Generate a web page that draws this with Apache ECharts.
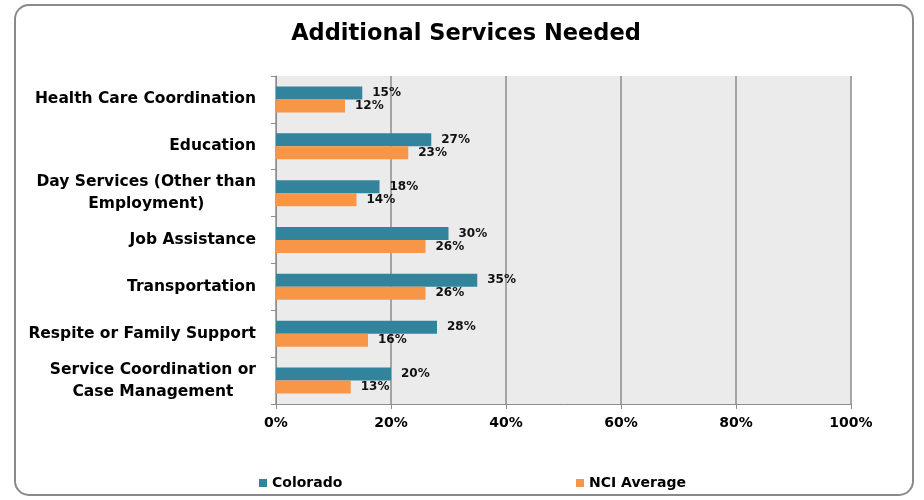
<!DOCTYPE html>
<html>
<head>
<meta charset="utf-8">
<script src="https://cdn.jsdelivr.net/npm/echarts@6/dist/echarts.min.js"></script>
<style>
html,body{margin:0;padding:0;background:#fff;}
#chart{width:924px;height:500px;}
</style>
</head>
<body>
<div id="chart"></div>
<script>
var categories = [
  "Health Care Coordination",
  "Education",
  "Day Services (Other than\nEmployment)",
  "Job Assistance",
  "Transportation",
  "Respite or Family Support",
  "Service Coordination or\nCase Management"
];
var colorado = [15, 27, 18, 30, 35, 28, 20];
var nciAverage = [12, 23, 14, 26, 26, 16, 13];
var xTicks = [0, 20, 40, 60, 80, 100];

var chart = echarts.init(document.getElementById('chart'));
var FONT = '"DejaVu Sans", "Open Sans", sans-serif';

function labelFmt(v) {
  return v.split('\n').map(function (l) { return '{c|' + l + '}'; }).join('\n');
}

var legendText = { fontFamily: FONT, fontSize: 14, fontWeight: 'bold', color: '#000' };

chart.setOption({
  animation: false,
  textStyle: { fontFamily: FONT },
  title: {
    text: 'Additional Services Needed',
    left: 461,
    textAlign: 'center',
    top: 18,
    textStyle: { fontFamily: FONT, fontSize: 22.5, fontWeight: 'bold', color: '#000' }
  },
  graphic: [{
    type: 'rect',
    shape: { x: 15, y: 5, width: 898, height: 490, r: 14 },
    style: { fill: 'none', stroke: '#8a8a8a', lineWidth: 2 },
    z: -10
  }],
  legend: [{
    left: 254,
    top: 471,
    icon: 'rect',
    itemWidth: 8,
    itemHeight: 8,
    itemGap: 5,
    textStyle: legendText,
    data: ['Colorado']
  }, {
    left: 571,
    top: 471,
    icon: 'rect',
    itemWidth: 8,
    itemHeight: 8,
    itemGap: 5,
    textStyle: legendText,
    data: ['NCI Average']
  }],
  grid: {
    left: 276, right: 73, top: 76, bottom: 96,
    show: true, backgroundColor: '#EBEBEB', borderWidth: 0
  },
  xAxis: {
    type: 'value',
    min: 0, max: 100, interval: 20,
    axisLine: { show: true, lineStyle: { color: '#8c8c8c', width: 1 } },
    axisTick: { show: true, length: 5, lineStyle: { color: '#8c8c8c' } },
    axisLabel: {
      margin: 12,
      fontFamily: FONT, fontSize: 14, fontWeight: 'bold', color: '#000',
      formatter: function (v) { return xTicks.indexOf(v) >= 0 ? v + '%' : ''; }
    },
    splitLine: { show: true, lineStyle: { color: '#8c8c8c', width: 1.5 } }
  },
  yAxis: {
    type: 'category',
    data: categories,
    inverse: true,
    axisLine: { show: true, lineStyle: { color: '#8c8c8c', width: 1 } },
    axisTick: { show: true, length: 5, alignWithLabel: false, lineStyle: { color: '#8c8c8c' } },
    axisLabel: {
      margin: 20,
      fontFamily: FONT, fontSize: 15.5, fontWeight: 'bold', color: '#000',
      lineHeight: 22,
      formatter: labelFmt,
      rich: { c: { align: 'center', fontFamily: FONT, fontSize: 15.5, fontWeight: 'bold', color: '#000', lineHeight: 22 } }
    },
    splitLine: { show: false }
  },
  series: [
    {
      name: 'Colorado',
      type: 'bar',
      data: colorado,
      barWidth: 13,
      barGap: '0%',
      itemStyle: { color: '#31849B' },
      label: {
        show: true, position: 'right', distance: 10,
        fontFamily: FONT, fontSize: 12, fontWeight: 'bold', color: '#111',
        formatter: '{c}%'
      }
    },
    {
      name: 'NCI Average',
      type: 'bar',
      data: nciAverage,
      barWidth: 13,
      barGap: '0%',
      itemStyle: { color: '#F79646' },
      label: {
        show: true, position: 'right', distance: 10,
        fontFamily: FONT, fontSize: 12, fontWeight: 'bold', color: '#111',
        formatter: '{c}%'
      }
    }
  ]
});
</script>
</body>
</html>
